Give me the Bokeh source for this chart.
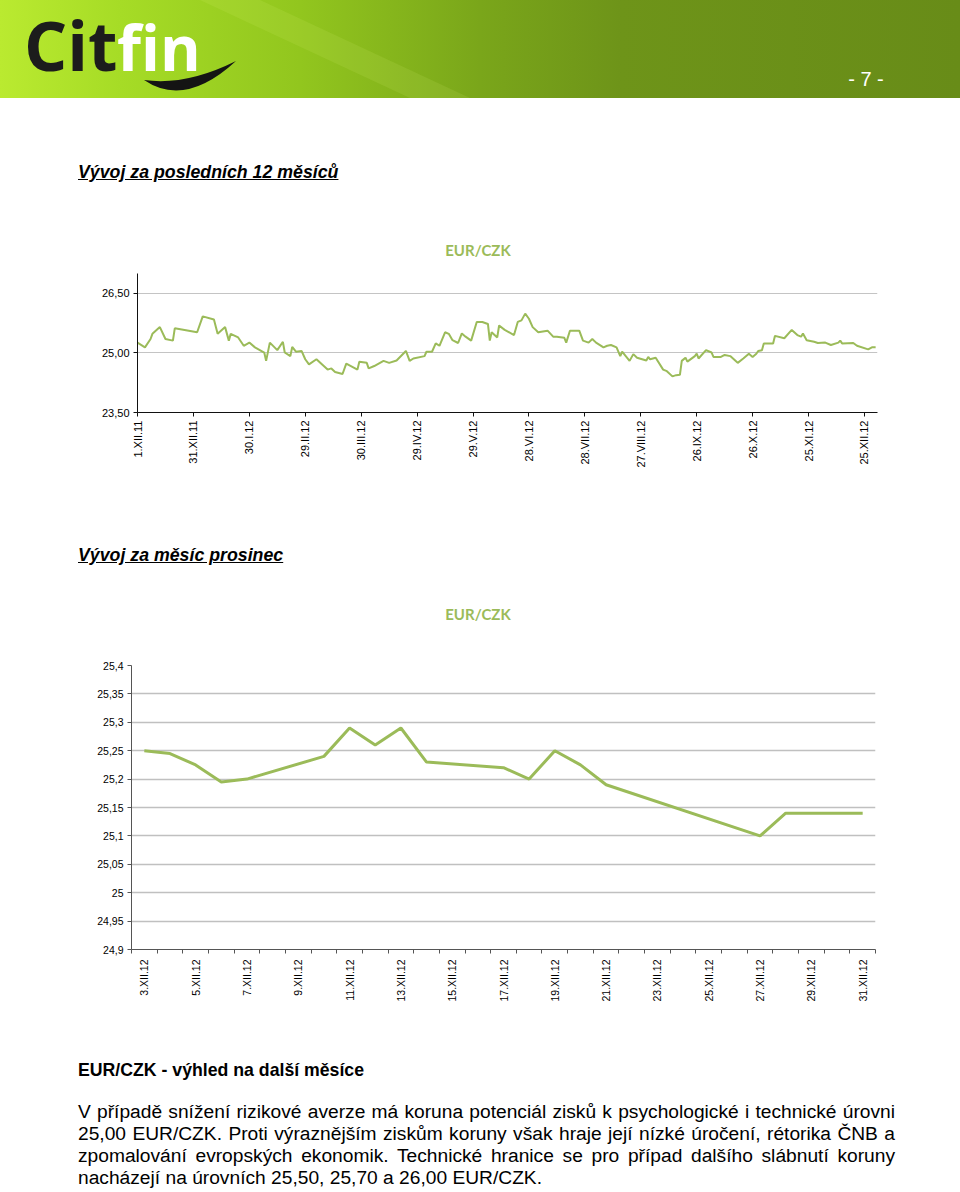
from math import pi
from bokeh.plotting import figure
from bokeh.models import Range1d, FixedTicker, Div
from bokeh.layouts import column, row
from bokeh.embed import file_html
from bokeh.resources import INLINE

# ---------------- data: last 12 months (days since 1.XII.2011) ----------------
y12_days = [0, 4, 7, 8, 12, 15, 19, 20, 32, 35,
            41, 43, 47, 49, 50, 54, 57, 60, 63, 68,
            69, 71, 75, 78, 79, 82, 83, 85, 88, 90,
            92, 96, 102, 104, 106, 110, 112, 118, 119, 123,
            124, 127, 132, 135, 139, 144, 146, 148, 154, 155,
            158, 160, 162, 165, 167, 169, 172, 174, 176, 179,
            182, 185, 188, 189, 190, 193, 194, 197, 202, 204,
            206, 208, 210, 212, 215, 220, 223, 225, 229, 230,
            232, 237, 239, 242, 244, 246, 250, 252, 254, 257,
            259, 260, 264, 266, 268, 273, 274, 275, 278, 282,
            284, 287, 289, 291, 292, 294, 295, 299, 300, 301,
            305, 308, 309, 313, 315, 318, 322, 325, 328, 330,
            332, 333, 335, 336, 341, 342, 347, 351, 354, 356,
            357, 359, 363, 365, 369, 372, 376, 377, 378, 384,
            386, 392, 394, 396]
y12_rate = [25.26, 25.14, 25.35, 25.48, 25.65, 25.35, 25.31, 25.62, 25.52, 25.92,
            25.84, 25.48, 25.65, 25.31, 25.48, 25.39, 25.18, 25.26, 25.14, 25.01,
            24.80, 25.26, 25.07, 25.28, 25.01, 24.92, 25.15, 25.03, 25.05, 24.84,
            24.71, 24.84, 24.58, 24.61, 24.52, 24.47, 24.73, 24.58, 24.78, 24.75,
            24.61, 24.67, 24.80, 24.75, 24.81, 25.05, 24.80, 24.86, 24.92, 25.03,
            25.03, 25.24, 25.18, 25.52, 25.48, 25.32, 25.25, 25.49, 25.41, 25.31,
            25.78, 25.78, 25.73, 25.31, 25.52, 25.39, 25.69, 25.58, 25.45, 25.78,
            25.82, 25.99, 25.86, 25.65, 25.52, 25.56, 25.41, 25.41, 25.38, 25.26,
            25.56, 25.56, 25.31, 25.26, 25.35, 25.26, 25.14, 25.18, 25.20, 25.14,
            24.92, 25.03, 24.80, 24.97, 24.88, 24.81, 24.90, 24.84, 24.88, 24.58,
            24.54, 24.41, 24.44, 24.45, 24.80, 24.88, 24.78, 24.92, 24.98, 24.86,
            25.07, 25.01, 24.90, 24.90, 24.95, 24.92, 24.75, 24.86, 24.98, 24.90,
            24.98, 25.05, 25.07, 25.24, 25.24, 25.43, 25.37, 25.58, 25.45, 25.41,
            25.49, 25.32, 25.28, 25.25, 25.26, 25.20, 25.26, 25.31, 25.24, 25.25,
            25.18, 25.09, 25.14, 25.14]
y12_tick_days = [0, 30, 60, 90, 120, 150, 180, 210, 240, 270, 300, 330, 360, 390]
y12_tick_labels = ["1.XII.11", "31.XII.11", "30.I.12", "29.II.12", "30.III.12",
                   "29.IV.12", "29.V.12", "28.VI.12", "28.VII.12", "27.VIII.12",
                   "26.IX.12", "26.X.12", "25.XI.12", "25.XII.12"]
y12_y_ticks = [23.5, 25.0, 26.5]
y12_y_labels = ["23,50", "25,00", "26,50"]

# ---------------- data: December 2012 (day of month) ----------------
dec_days = [3, 4, 5, 6, 7, 10, 11, 12, 13, 14, 17, 18, 19, 20, 21, 27, 28, 31]
dec_rate = [25.25, 25.245, 25.225, 25.195, 25.20, 25.24, 25.29, 25.26, 25.29, 25.23,
            25.22, 25.20, 25.25, 25.225, 25.19, 25.10, 25.14, 25.14]
dec_tick_days = [3, 5, 7, 9, 11, 13, 15, 17, 19, 21, 23, 25, 27, 29, 31]
dec_tick_labels = ["3.XII.12", "5.XII.12", "7.XII.12", "9.XII.12", "11.XII.12",
                   "13.XII.12", "15.XII.12", "17.XII.12", "19.XII.12", "21.XII.12",
                   "23.XII.12", "25.XII.12", "27.XII.12", "29.XII.12", "31.XII.12"]
dec_y_ticks = [24.9, 24.95, 25.0, 25.05, 25.1, 25.15, 25.2, 25.25, 25.3, 25.35, 25.4]
dec_y_labels = ["24,9", "24,95", "25", "25,05", "25,1", "25,15", "25,2", "25,25",
                "25,3", "25,35", "25,4"]

LINE = "#9BBB59"
FONT = "Liberation Sans"

# ---------------- header banner (HTML decoration) ----------------
grad = ("linear-gradient(90deg, rgb(186,234,48) 0px, rgb(166,220,38) 120px, rgb(146,198,30) 300px, "
        "rgb(122,166,26) 480px, rgb(110,148,25) 620px, rgb(104,140,24) 960px)")
hdr_html = (
    '<div style="position:relative;width:960px;height:100px;overflow:hidden;">'
    f'<div style="position:absolute;left:0;top:0;width:960px;height:98px;background:{grad};"></div>'
    '<svg width="960" height="98" style="position:absolute;left:0;top:0;">'
    '<polygon points="200,0 260,0 470,98 410,98" fill="#eaff8a" fill-opacity="0.10"/>'
    '<path d="M144,80 Q185,108 236,61 Q186,86 144,80 Z" fill="#141414"/>'
    '</svg>'
    '<div style="position:absolute;left:24px;top:10.6px;font-family:\'Open Sans\';font-weight:bold;'
    'font-size:68px;line-height:68px;color:#1c1c1c;white-space:nowrap;">Cit</div>'
    '<div style="position:absolute;left:117px;top:15.9px;font-family:\'Open Sans\';font-weight:bold;'
    'font-size:62px;line-height:62px;color:#ffffff;white-space:nowrap;">fin</div>'
    f'<div style="position:absolute;left:816px;width:100px;top:68px;text-align:center;'
    f'font-family:\'{FONT}\',Arial;font-size:20px;line-height:22px;color:#ffffff;white-space:nowrap;">- 7 -</div>'
    '</div>'
)
hdr = Div(text=hdr_html, width=960, height=100, margin=0)

def block(height, items):
    inner_html = "".join(items)
    return Div(text=f'<div style="position:relative;width:960px;height:{height}px;">{inner_html}</div>',
               width=960, height=height, margin=0)

def heading(top, txt):
    return (f'<div style="position:absolute;left:78px;top:{top}px;font-family:\'{FONT}\',Arial;'
            f'font-size:17.75px;line-height:22px;font-style:italic;font-weight:bold;'
            f'text-decoration:underline;color:#000;white-space:nowrap;">{txt}</div>')

def ctitle(top):
    return (f'<div style="position:absolute;left:378px;width:200px;top:{top}px;text-align:center;'
            f'font-family:Lato,\'Open Sans\';font-weight:bold;font-size:15px;line-height:18px;'
            f'color:{LINE};">EUR/CZK</div>')

divA = block(170, [heading(61, "Vývoj za posledních 12 měsíců"), ctitle(141)])
divB = block(185, [heading(74, "Vývoj za měsíc prosinec"), ctitle(135)])

# ---------------- chart 1 ----------------
p1 = figure(width=960, height=200, x_range=Range1d(0, 397), y_range=Range1d(23.5, 27.0),
            toolbar_location=None, output_backend="svg",
            min_border_left=137, min_border_right=83, min_border_top=3, min_border_bottom=58)
p1.outline_line_color = None
p1.xgrid.visible = False
p1.line(y12_days, y12_rate, line_color=LINE, line_width=2)
p1.xaxis.ticker = FixedTicker(ticks=y12_tick_days)
p1.xaxis.major_label_overrides = {d: l for d, l in zip(y12_tick_days, y12_tick_labels)}
p1.xaxis.major_label_orientation = pi / 2
p1.yaxis.ticker = FixedTicker(ticks=y12_y_ticks)
p1.yaxis.major_label_overrides = {v: l for v, l in zip(y12_y_ticks, y12_y_labels)}
p1.ygrid.ticker = FixedTicker(ticks=y12_y_ticks)
p1.ygrid.grid_line_color = "#c4c4c4"
for ax in (p1.xaxis[0], p1.yaxis[0]):
    ax.axis_line_color = "#111111"
    ax.major_tick_line_color = "#111111"
    ax.major_tick_in = 0
    ax.major_tick_out = 4
    ax.minor_tick_line_color = None
    ax.major_label_text_font = FONT
    ax.major_label_text_font_size = "11px"
    ax.major_label_text_color = "#000000"
    ax.major_label_standoff = 4

# ---------------- chart 2 ----------------
p2 = figure(width=960, height=350, x_range=Range1d(2.5, 31.5), y_range=Range1d(24.9, 25.4),
            toolbar_location=None, output_backend="svg",
            min_border_left=131, min_border_right=85, min_border_top=10, min_border_bottom=56)
p2.outline_line_color = None
p2.xgrid.visible = False
p2.line(dec_days, dec_rate, line_color=LINE, line_width=3)
p2.xaxis.ticker = FixedTicker(ticks=dec_tick_days, minor_ticks=[d + 0.5 for d in range(2, 32)])
p2.xaxis.major_label_overrides = {d: l for d, l in zip(dec_tick_days, dec_tick_labels)}
p2.xaxis.major_label_orientation = pi / 2
p2.yaxis.ticker = FixedTicker(ticks=dec_y_ticks)
p2.yaxis.major_label_overrides = {v: l for v, l in zip(dec_y_ticks, dec_y_labels)}
p2.ygrid.grid_line_color = "#c0c0c0"
p2.ygrid.grid_line_width = 1.5
for ax in (p2.xaxis[0], p2.yaxis[0]):
    ax.axis_line_color = "#555555"
    ax.major_tick_line_color = "#555555"
    ax.major_tick_in = 0
    ax.major_tick_out = 4
    ax.major_label_text_font = FONT
    ax.major_label_text_font_size = "10.5px"
    ax.major_label_text_color = "#000000"
    ax.major_label_standoff = 4
p2.xaxis.major_tick_out = 0
p2.xaxis.minor_tick_in = 0
p2.xaxis.minor_tick_out = 4
p2.xaxis.minor_tick_line_color = "#555555"
p2.yaxis.minor_tick_line_color = None
p2.xaxis.major_label_standoff = 6

# ---------------- text block ----------------
para_lines = [
    "V případě snížení rizikové averze má koruna potenciál zisků k psychologické i technické úrovni",
    "25,00 EUR/CZK. Proti výraznějším ziskům koruny však hraje její nízké úročení, rétorika ČNB a",
    "zpomalování evropských ekonomik. Technické hranice se pro případ dalšího slábnutí koruny",
    "nacházejí na úrovních 25,50, 25,70 a 26,00 EUR/CZK.",
]
items = [(f'<div style="position:absolute;left:78px;top:54px;font-family:\'{FONT}\',Arial;'
          f'font-size:17.7px;line-height:22px;font-weight:bold;color:#000;white-space:nowrap;">'
          f'EUR/CZK - výhled na další měsíce</div>')]
for i, ln in enumerate(para_lines):
    last = i == len(para_lines) - 1
    just = "left" if last else "justify"
    items.append(f'<div style="position:absolute;left:78px;width:817px;top:{96 + 22 * i}px;'
                 f'font-family:\'{FONT}\',Arial;font-size:19.2px;line-height:22px;color:#000;'
                 f'text-align:{just};text-align-last:{just};white-space:nowrap;">{ln}</div>')
divC = block(187, items)

page = column(hdr, divA, row(p1, margin=0), divB, row(p2, margin=0), divC,
              spacing=0, margin=0)

open("out.html", "w").write(file_html(page, INLINE))
